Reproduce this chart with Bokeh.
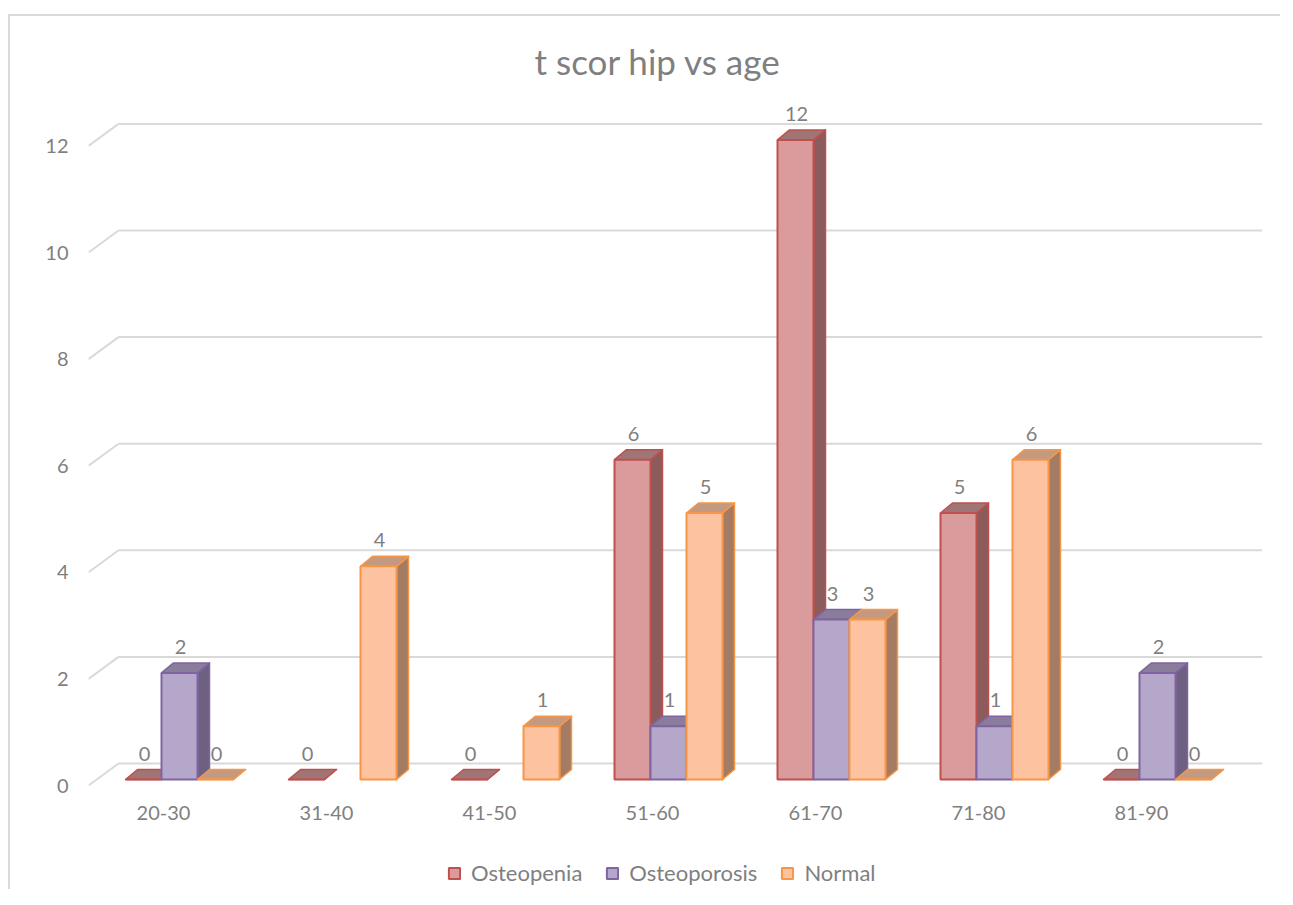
from bokeh.plotting import figure
from bokeh.models import Range1d, LinearAxis, FixedTicker, Legend, LegendItem, ColumnDataSource, InlineStyleSheet
from bokeh.core.properties import value
from bokeh.embed import file_html
from bokeh.resources import INLINE

# ---------------- data ----------------
categories = ["20-30", "31-40", "41-50", "51-60", "61-70", "71-80", "81-90"]
osteopenia = [0, 0, 0, 6, 12, 5, 0]
osteoporosis = [2, None, None, 1, 3, 1, 2]
normal = [0, 4, 1, 5, 3, 6, 0]
series_names = ["Osteopenia", "Osteoporosis", "Normal"]
y_ticks = [0, 2, 4, 6, 8, 10, 12]

# ---------------- styling / geometry ----------------
PXX = 163.0     # pixels per category
PXY = 53.3      # pixels per unit value
BAR_W = 36 / PXX
DX = 12 / PXX
DY = 10 / PXY
front_cols = ["#d99b9b", "#b5a7ca", "#fdc3a0"]
line_cols = ["#c0504d", "#8064a2", "#f79646"]
side_cols = ["#8c5b5c", "#6d6080", "#a37c63"]
top_cols = ["#a07576", "#8a7c9b", "#c39a80"]
TXT = "#7f7f7f"
FONT = "Lato"

p = figure(width=1280, height=889, output_backend="svg", toolbar_location=None,
           x_range=Range1d(-91 / PXX, 1083 / PXX), y_range=Range1d(-110 / PXY, 679 / PXY),
           min_border_left=88, min_border_right=18, min_border_top=100, min_border_bottom=0,
           x_axis_type=None, y_axis_type=None)
p.outline_line_color = None
p.xgrid.visible = False
p.ygrid.visible = False
p.background_fill_color = "white"
p.border_fill_alpha = 0
p.stylesheets = [InlineStyleSheet(css=(
    ":host { background: "
    "linear-gradient(#d9d9d9,#d9d9d9) 8px 14px / 2px 2000px no-repeat, "
    "linear-gradient(#d9d9d9,#d9d9d9) 8px 14px / 2000px 2px no-repeat, white; }"))]

# axes on shifted ranges (3-D perspective offsets)
p.extra_y_ranges = {"yax": Range1d(-104 / PXY, 685 / PXY)}
p.extra_x_ranges = {"xax": Range1d(-75 / PXX, 1099 / PXX)}

yax = LinearAxis(y_range_name="yax", ticker=FixedTicker(ticks=y_ticks))
xax = LinearAxis(x_range_name="xax", ticker=FixedTicker(ticks=list(range(len(categories)))),
                 major_label_overrides={i: c for i, c in enumerate(categories)},
                 fixed_location=-11 / PXY)
for ax in (yax, xax):
    ax.axis_line_color = None
    ax.major_tick_line_color = None
    ax.minor_tick_line_color = None
    ax.major_tick_out = 0
    ax.major_tick_in = 0
    ax.major_label_text_font = FONT
    ax.major_label_text_font_size = "20px"
    ax.major_label_text_color = TXT
yax.major_label_standoff = 20
xax.major_label_standoff = 15
p.add_layout(yax, "left")
p.add_layout(xax, "below")

# gridlines: back wall horizontal + slanted front part
gx0 = [-61 / PXX] * len(y_ticks)
gx1 = [1083 / PXX] * len(y_ticks)
gyb = [v + 16 / PXY for v in y_ticks]
p.segment(x0=gx0, y0=gyb, x1=gx1, y1=gyb, line_color="#d9d9d9", line_width=2)
p.segment(x0=[-91 / PXX] * len(y_ticks), y0=[v - 6 / PXY for v in y_ticks],
          x1=gx0, y1=gyb, line_color="#d9d9d9", line_width=2)

all_series = [osteopenia, osteoporosis, normal]
legend_items = []
lab_x, lab_y, lab_t = [], [], []
for s, vals in enumerate(all_series):
    xs_side, ys_side, cols_side = [], [], []
    left, right, top = [], [], []
    for i, v in enumerate(vals):
        if v is None:
            continue
        xc = i + (s - 1) * BAR_W
        xl, xr = xc - BAR_W / 2, xc + BAR_W / 2
        xs_side.append([xr, xr + DX, xr + DX, xr])
        ys_side.append([0, DY, v + DY, v])
        cols_side.append(side_cols[s])
        xs_side.append([xl, xl + DX, xr + DX, xr])
        ys_side.append([v, v + DY, v + DY, v])
        cols_side.append(top_cols[s])
        left.append(xl); right.append(xr); top.append(v)
        lab_x.append(xc + 1 / PXX); lab_y.append(v); lab_t.append(str(v))
    src = ColumnDataSource(dict(xs=xs_side, ys=ys_side, c=cols_side))
    p.patches("xs", "ys", source=src, fill_color="c", line_color=line_cols[s],
              line_width=1.5, line_join="round")
    r = p.quad(left=left, right=right, bottom=[0] * len(top), top=top,
               fill_color=front_cols[s], line_color=line_cols[s], line_width=2)
    legend_items.append(LegendItem(label=series_names[s], renderers=[r]))

p.text(x=lab_x, y=lab_y, text=lab_t, text_align="center", text_baseline="middle",
       y_offset=-26, text_font=value(FONT), text_font_size="20px", text_color=TXT)

legend = Legend(items=legend_items, orientation="horizontal", location=(359, 3),
                border_line_color=None, background_fill_alpha=0,
                glyph_width=14, glyph_height=14, label_standoff=10, spacing=23,
                label_text_font=FONT, label_text_font_size="22px", label_text_color=TXT,
                margin=0, padding=0)
p.add_layout(legend)

p.title.text = "t scor hip vs age"
p.title.align = "left"
p.title.offset = 446
p.title.standoff = 38
p.title.text_font = FONT
p.title.text_font_style = "normal"
p.title.text_font_size = "35px"
p.title.text_color = TXT

open("out.html", "w").write(file_html(p, INLINE))
